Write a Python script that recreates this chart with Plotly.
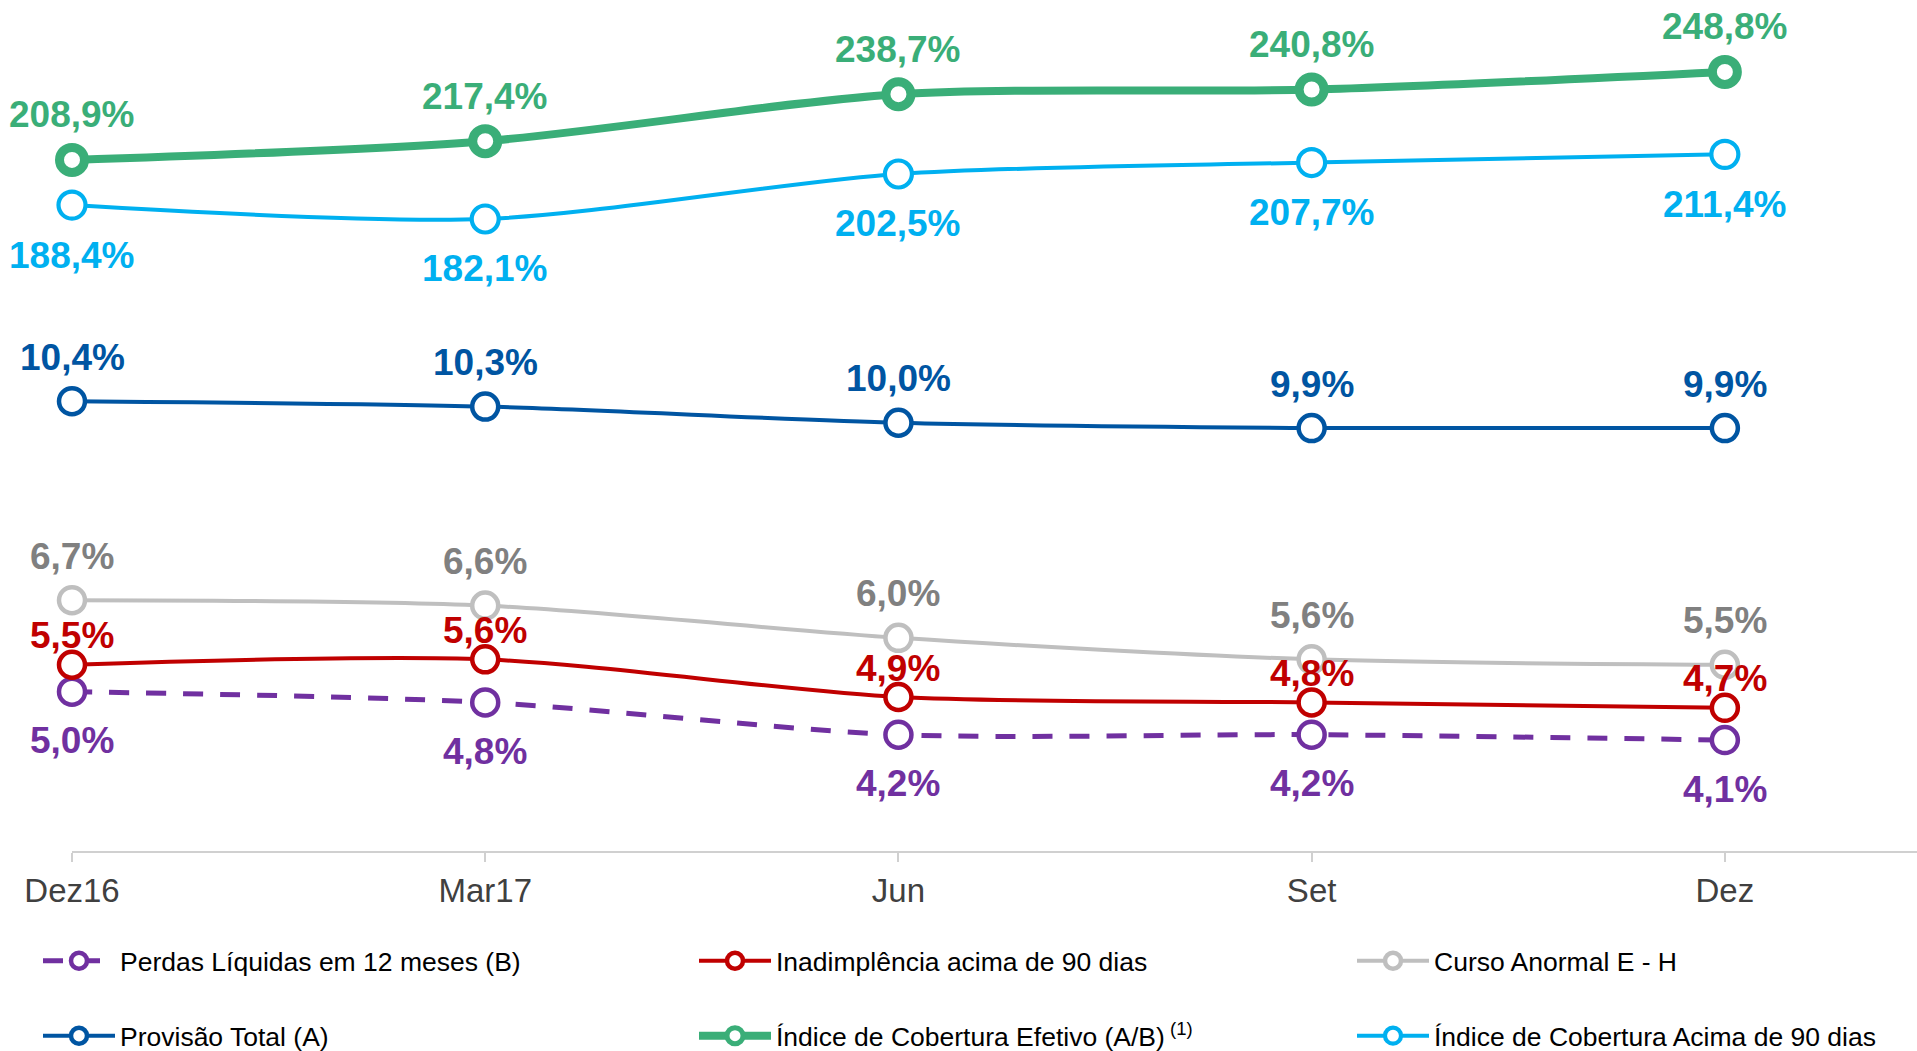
import plotly.graph_objects as go

categories = ["Dez16", "Mar17", "Jun", "Set", "Dez"]

perdas = [5.0, 4.8, 4.2, 4.2, 4.1]
inadimplencia = [5.5, 5.6, 4.9, 4.8, 4.7]
curso_anormal = [6.7, 6.6, 6.0, 5.6, 5.5]
provisao = [10.4, 10.3, 10.0, 9.9, 9.9]
cobertura_efetivo = [208.9, 217.4, 238.7, 240.8, 248.8]
cobertura_90 = [188.4, 182.1, 202.5, 207.7, 211.4]

names = [
    "Perdas Líquidas em 12 meses (B)",
    "Inadimplência acima de 90 dias",
    "Curso Anormal E - H",
    "Provisão Total (A)",
    "Índice de Cobertura Efetivo (A/B)<sup> (1)</sup>",
    "Índice de Cobertura Acima de 90 dias",
]

FONT = "Arial, Liberation Sans, sans-serif"
x = list(range(len(categories)))

W, H = 1917, 1051

series = [
    # values, name, line color, label color, width, dash, marker size, marker line, yaxis, label shift
    (perdas, names[0], "#7030A0", "#7030A0", 5, "20px,17px", 26, 4.5, "y", -49),
    (inadimplencia, names[1], "#C00000", "#C00000", 4, "solid", 26, 4.5, "y", 29),
    (curso_anormal, names[2], "#BFBFBF", "#808080", 4, "solid", 26, 4.5, "y", 44),
    (provisao, names[3], "#0055A2", "#0055A2", 4, "solid", 26, 4.5, "y", 44),
    (cobertura_efetivo, names[4], "#3AAE78", "#3AAE78", 8, "solid", 25, 9, "y2", 45),
    (cobertura_90, names[5], "#00B0F0", "#00B0F0", 4, "solid", 27, 4.2, "y2", -50),
]

# legend slots (container coords): 3 columns x 2 rows
leg_x = [p / W for p in (38, 694, 1352)]
leg_y = [1 - p / H for p in (961, 1036)]

fig = go.Figure()
annotations = []
legend_layouts = {}
for i, (vals, name, lc, tc, w, dash, ms, mlw, yax, shift) in enumerate(series):
    leg_id = "legend" if i == 0 else f"legend{i + 1}"
    fig.add_trace(go.Scatter(
        x=x, y=vals, name=name, mode="lines+markers", yaxis=yax, legend=leg_id,
        line=dict(color=lc, width=w, dash=dash, shape="spline", smoothing=0.8),
        marker=dict(size=ms, color="white", line=dict(color=lc, width=mlw)),
        cliponaxis=False,
    ))
    legend_layouts[leg_id] = dict(
        xref="container", yref="container",
        x=leg_x[i % 3], y=leg_y[i // 3], xanchor="left", yanchor="middle",
        orientation="h", itemsizing="trace", itemwidth=72,
        font=dict(family=FONT, size=26.5, color="#000000"),
        bgcolor="rgba(0,0,0,0)", borderwidth=0,
    )
    for xi, v in zip(x, vals):
        annotations.append(dict(
            x=xi, y=v, xref="x", yref=yax, yshift=shift,
            text=f"{v:.1f}".replace(".", ",") + "%",
            showarrow=False, xanchor="center", yanchor="middle", borderpad=0,
            font=dict(family=FONT, size=37, color=tc, weight="bold"),
        ))

fig.update_layout(
    width=W, height=H,
    margin=dict(l=72, r=0, t=0, b=200),
    paper_bgcolor="white", plot_bgcolor="white",
    annotations=annotations,
    xaxis=dict(
        range=[0, 4.465], tickmode="array", tickvals=x, ticktext=categories,
        showline=True, linecolor="#D0D0D0", linewidth=2,
        ticks="outside", ticklen=9, tickcolor="#D0D0D0", tickwidth=1.5,
        showgrid=False, zeroline=False, automargin=False,
        tickfont=dict(family=FONT, size=33, color="#404040"),
    ),
    yaxis=dict(range=[2.037, 17.86], visible=False, showgrid=False, zeroline=False),
    yaxis2=dict(range=[-104.5, 281.4], visible=False, overlaying="y",
                showgrid=False, zeroline=False),
    showlegend=True,
    hovermode=False,
    **legend_layouts,
)

# remove the default 8px page margin so the figure fills the window exactly
fig.write_html(
    "out.html",
    config={"displayModeBar": False, "staticPlot": False},
    post_script="document.body.style.margin='0';document.body.style.overflow='hidden';",
)
